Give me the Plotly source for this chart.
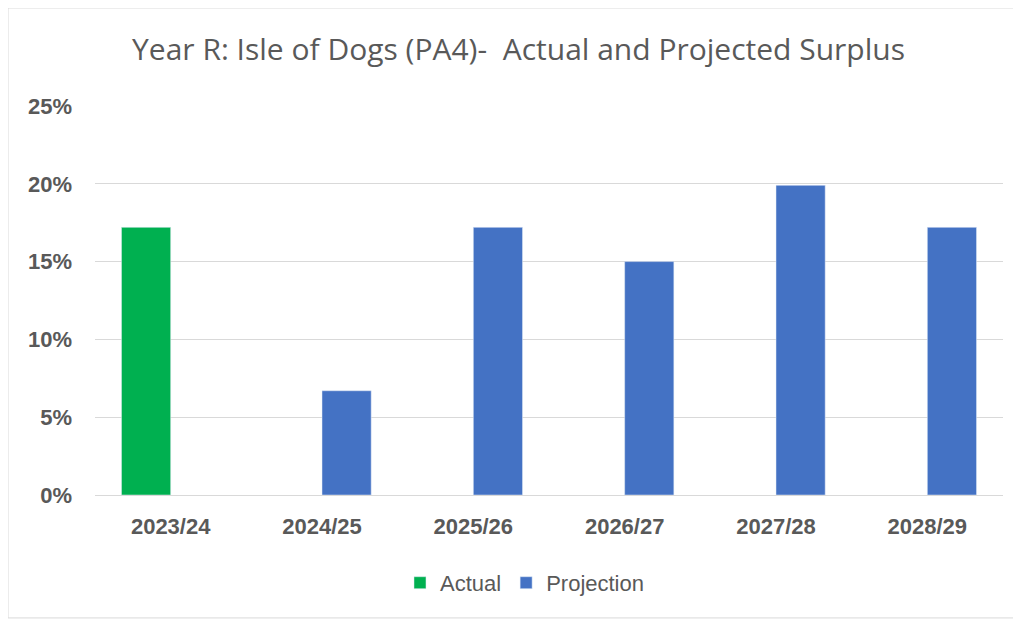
import plotly.graph_objects as go

years = ['2023/24', '2024/25', '2025/26', '2026/27', '2027/28', '2028/29']
actual = [0.172, None, None, None, None, None]
projection = [None, 0.067, 0.172, 0.150, 0.199, 0.172]

tick_font = dict(size=22, color='#595959', family='Liberation Sans, Arial, sans-serif',
                 weight='bold')

fig = go.Figure()
fig.add_trace(go.Bar(x=years, y=actual, name='Actual', marker_color='#00B050'))
fig.add_trace(go.Bar(x=years, y=projection, name='Projection', marker_color='#4472C4'))

fig.update_layout(
    width=1021, height=623,
    barmode='group', bargap=0.35, bargroupgap=0,
    paper_bgcolor='white', plot_bgcolor='white',
    margin=dict(l=87, r=26, t=98, b=136),
    font=dict(family='Liberation Sans, Arial, sans-serif', color='#595959'),
    title=dict(text='Year R: Isle of Dogs (PA4)-  Actual and Projected Surplus',
               x=0.5, xref='container', y=0.933, yref='container',
               xanchor='center', yanchor='middle',
               font=dict(size=30, color='#595959',
                         family='Open Sans, Liberation Sans, sans-serif')),
    legend=dict(orientation='h', x=0.473, xanchor='center', y=-0.226, yanchor='middle',
                font=dict(size=22, color='#595959'), itemwidth=30,
                traceorder='normal'),
    showlegend=True,
)
fig.update_yaxes(range=[0, 0.25], dtick=0.05, tickformat='.0%',
                 gridcolor='#D9D9D9', gridwidth=1, zeroline=False,
                 showline=False, ticks='', ticklabelstandoff=22,
                 tickfont=tick_font)
fig.update_xaxes(showline=True, linecolor='#D9D9D9', linewidth=1, ticks='',
                 ticklabelstandoff=12, tickfont=tick_font)
# light frame around the whole chart
fig.add_shape(type='rect', xref='paper', yref='paper',
              x0=-0.0958, x1=1.018, y0=-0.316, y1=1.252,
              line=dict(color='#D9D9D9', width=1))
fig.write_html('out.html')
